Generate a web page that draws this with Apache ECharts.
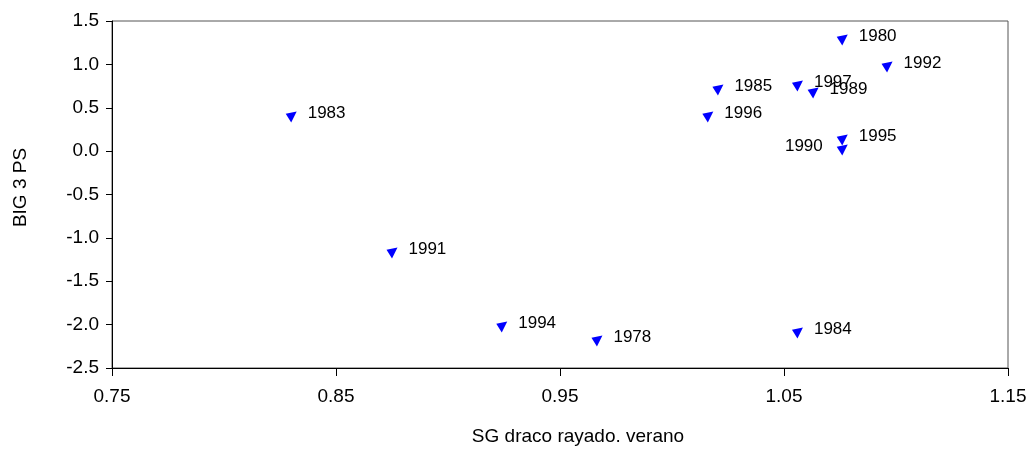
<!DOCTYPE html>
<html><head><meta charset="utf-8">
<script src="https://cdn.jsdelivr.net/npm/echarts@6/dist/echarts.min.js"></script>
<style>html,body{margin:0;padding:0;background:#fff}#c{width:1032px;height:453px}</style>
</head><body><div id="c"></div>
<script>
const years = ['1983','1991','1994','1978','1984','1985','1996','1997','1989','1980','1992','1995','1990'];
const xValues = [0.830,0.875,0.924,0.9665,1.056,1.0205,1.016,1.056,1.063,1.076,1.096,1.076,1.076];
const yValues = [0.393,-1.174,-2.027,-2.189,-2.097,0.705,0.393,0.751,0.67,1.28,0.97,0.128,0.013];
const leftLabelYears = ['1990'];
const xTicks = [0.75,0.85,0.95,1.05,1.15];
const yTicks = [-2.5,-2.0,-1.5,-1.0,-0.5,0.0,0.5,1.0,1.5];

const data = years.map((y,i)=>({
  value:[xValues[i], yValues[i]],
  name:y,
  label: leftLabelYears.includes(y) ? {position:'left', distance:14} : undefined
}));

const F = 'Liberation Sans, Arial, sans-serif';
const chart = echarts.init(document.getElementById('c'));
chart.setOption({
  animation:false,
  grid:{left:112,right:24,top:21,bottom:85,show:true,borderColor:'#555',borderWidth:1},
  xAxis:{type:'value',min:xTicks[0],max:xTicks[xTicks.length-1],interval:0.1,
    name:'SG draco rayado. verano',nameLocation:'middle',nameGap:59,
    nameTextStyle:{fontFamily:F,fontSize:19,color:'#000',padding:[0,0,0,36]},
    axisLine:{show:true,onZero:false,lineStyle:{color:'#000'}},
    axisTick:{show:true,length:8,lineStyle:{color:'#000'}},
    splitLine:{show:false},
    axisLabel:{fontFamily:F,fontSize:19,color:'#000',margin:19,formatter:v=>v.toFixed(2)}},
  yAxis:{type:'value',min:yTicks[0],max:yTicks[yTicks.length-1],interval:0.5,
    name:'BIG 3 PS',nameLocation:'middle',nameGap:82,
    nameTextStyle:{fontFamily:F,fontSize:19,color:'#000',padding:[0,0,0,14]},
    axisLine:{show:true,onZero:false,lineStyle:{color:'#000'}},
    axisTick:{show:true,length:6,lineStyle:{color:'#000'}},
    splitLine:{show:false},
    axisLabel:{fontFamily:F,fontSize:19,color:'#000',margin:13,formatter:v=>v.toFixed(1)}},
  series:[{
    type:'scatter',
    data:data,
    symbol:'path://M0,2 L10,0 L5,10 Z',
    symbolSize:[11,11],
    itemStyle:{color:'#0000ff',opacity:1},
    label:{show:true,position:'right',distance:11,formatter:p=>p.name,
      fontFamily:F,fontSize:17,color:'#000',offset:[0,-4]}
  }]
});
</script></body></html>
